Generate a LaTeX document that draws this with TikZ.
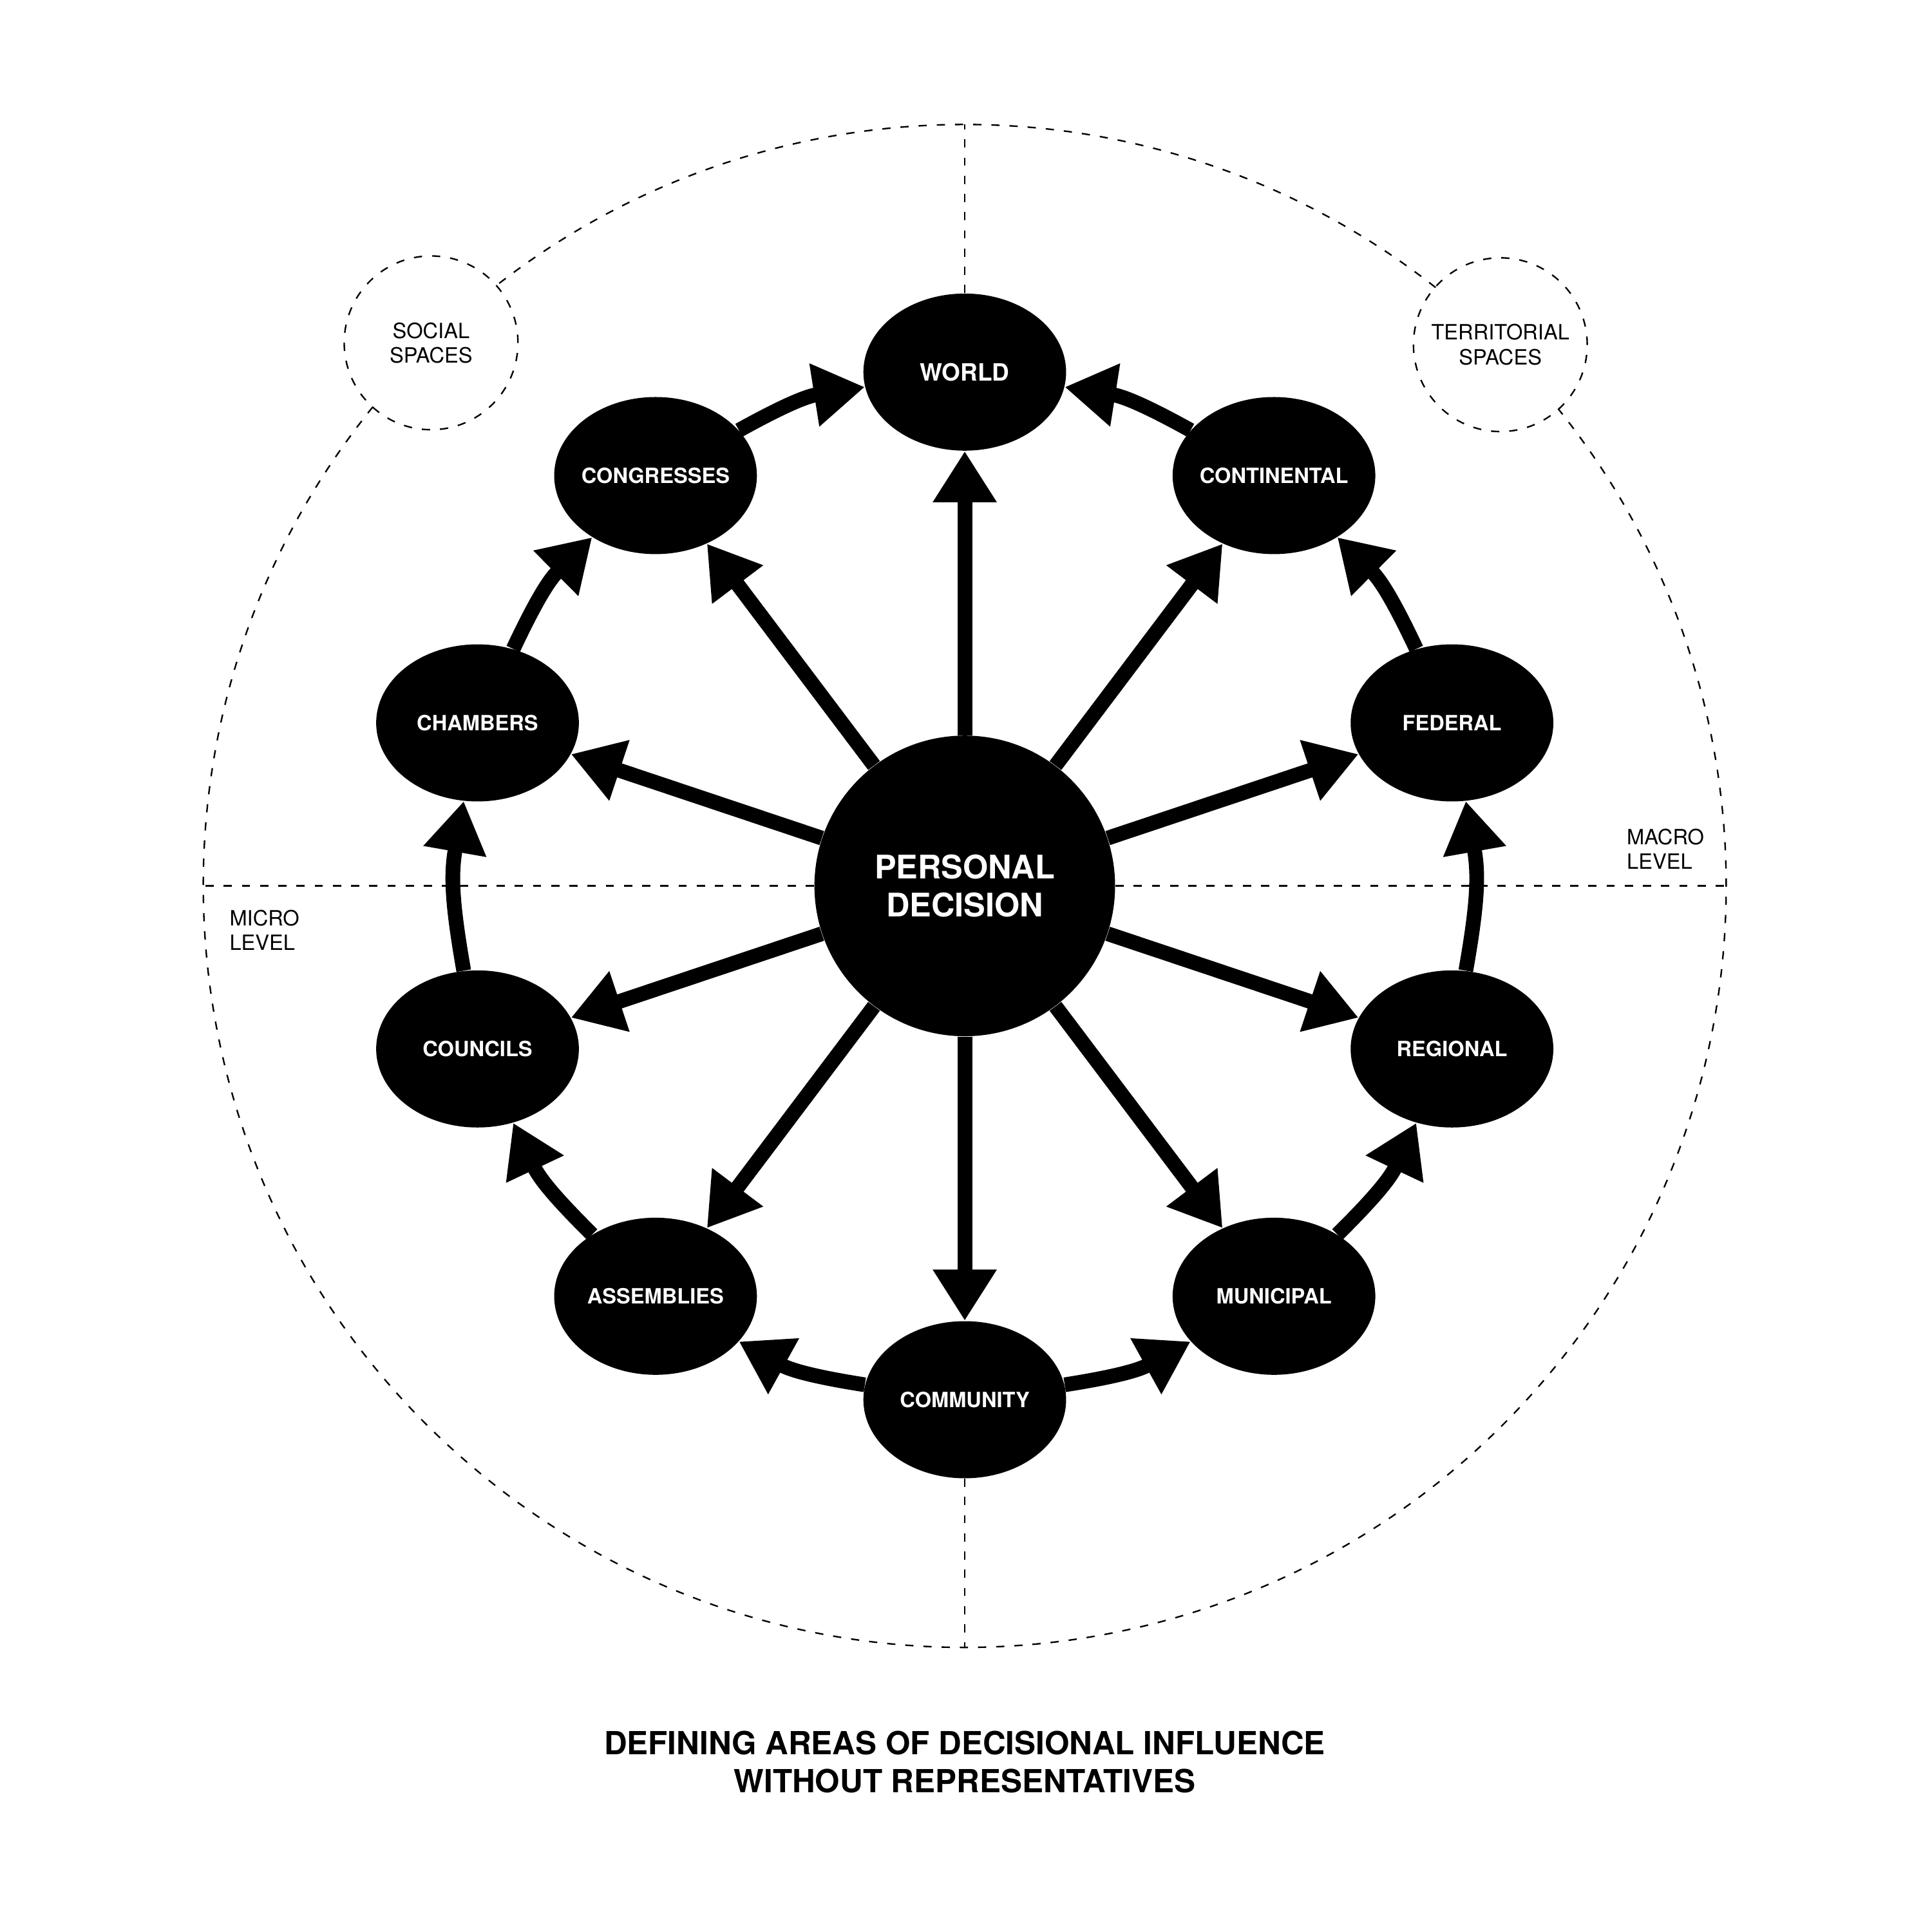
\documentclass[tikz,border=0pt]{standalone}
\usepackage{fontspec}
\setmainfont{TeX Gyre Heros}
\usetikzlibrary{shapes.geometric,arrows.meta}

\begin{document}
\begin{tikzpicture}[x=2cm,y=2cm,
  level/.style={ellipse, fill=black, minimum width=3.29cm, minimum height=2.55cm,
    inner xsep=-2mm, inner ysep=0pt, text=white, font=\fontsize{9.7}{11.4}\selectfont\bfseries},
  space/.style={circle, draw, guide, minimum size=2.82cm, inner sep=0pt, align=center,
    font=\fontsize{9.7}{11.4}\selectfont},
  note/.style={inner sep=0pt, align=left, font=\fontsize{9.7}{11.4}\selectfont},
  spoke/.style={line width=6.8pt, -{Triangle[length=0.83cm,width=0.98cm]}},
  ring/.style={spoke, looseness=1.1},
  guide/.style={line width=0.7pt, dash pattern=on 3.8pt off 4.6pt}]
\useasboundingbox (-7.83,-8.49) rectangle (7.85,7.19);

\node[circle, fill=black, minimum size=4.88cm, inner sep=0pt, text=white, align=center,
  font=\fontsize{15}{17.3}\selectfont\bfseries] (0) at (0,0) {PERSONAL\\DECISION};
\node[level, font=\fontsize{11}{13}\selectfont\bfseries] (1) at (90:4.17) {WORLD};
\node[level] (2) at (53:4.17) {CONTINENTAL};
\node[level] (3) at (18.5:4.17) {FEDERAL};
\node[level] (4) at (-18.5:4.17) {REGIONAL};
\node[level] (5) at (-53:4.17) {MUNICIPAL};
\node[level] (6) at (-90:4.17) {COMMUNITY};
\node[level] (7) at (-127:4.17) {ASSEMBLIES};
\node[level] (8) at (-161.5:4.17) {COUNCILS};
\node[level] (9) at (161.5:4.17) {CHAMBERS};
\node[level] (10) at (127:4.17) {CONGRESSES};

\node[space] (social) at (134.5:6.18) {SOCIAL\\SPACES};
\node[space] (territorial) at (45.3:6.18) {TERRITORIAL\\SPACES};
\node[note, anchor=west] (micro) at (-5.97,-0.36) {MICRO\\LEVEL};
\node[note, anchor=west] (macro) at (5.37,0.30) {MACRO\\LEVEL};
\node[align=center, font=\fontsize{14.7}{17.5}\selectfont\bfseries] (title) at (0,-7.11)
  {DEFINING AREAS OF DECISIONAL INFLUENCE\\WITHOUT REPRESENTATIVES};

% outer dashed frame
\coordinate (n) at (90:6.18);
\coordinate (s) at (-90:6.18);
\coordinate (w) at (180:6.18);
\coordinate (e) at (0:6.18);
\draw[guide] (51.8:6.18) arc[start angle=51.8, end angle=128, radius=6.18];
\draw[guide] (141:6.18) arc[start angle=141, end angle=398.8, radius=6.18];
\path[draw,guide] (1) -- (n);
\path[draw,guide] (6) -- (s);
\path[draw,guide] (0) -- (w);
\path[draw,guide] (0) -- (e);

% from the centre outwards
\path[draw,spoke] (0) -- (1);
\path[draw,spoke] (0) -- (2);
\path[draw,spoke] (0) -- (3);
\path[draw,spoke] (0) -- (4);
\path[draw,spoke] (0) -- (5);
\path[draw,spoke] (0) -- (6);
\path[draw,spoke] (0) -- (7);
\path[draw,spoke] (0) -- (8);
\path[draw,spoke] (0) -- (9);
\path[draw,spoke] (0) -- (10);

% around the ring
\path[draw,ring] (6) to [bend right=10] (5);
\path[draw,ring] (5) to [bend right=10] (4);
\path[draw,ring] (4) to [bend right=10] (3);
\path[draw,ring] (3) to [bend right=10] (2);
\path[draw,ring] (2) to [bend right=10] (1);
\path[draw,ring] (6) to [bend left=10] (7);
\path[draw,ring] (7) to [bend left=10] (8);
\path[draw,ring] (8) to [bend left=10] (9);
\path[draw,ring] (9) to [bend left=10] (10);
\path[draw,ring] (10) to [bend left=10] (1);
\end{tikzpicture}
\end{document}
